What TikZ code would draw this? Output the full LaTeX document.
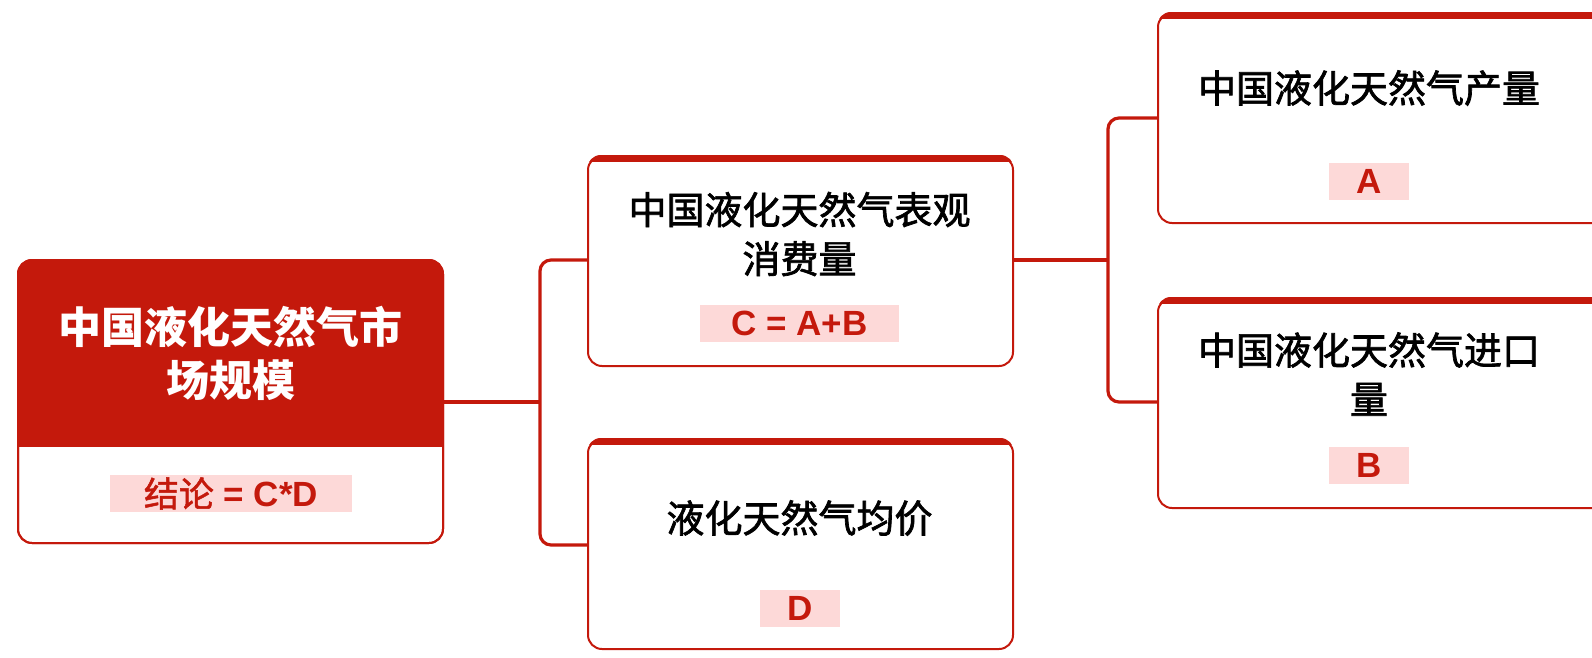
\documentclass[tikz,border=0pt]{standalone}
\usepackage{fontspec}
\setmainfont{Noto Sans CJK SC}
\newfontfamily\titlefont{Noto Sans CJK SC}[FakeBold=1.8]
\newfontfamily\cjkmed{Noto Sans CJK SC}[FakeBold=1.4]
\newfontfamily\latinb{Liberation Sans}
\definecolor{mred}{RGB}{196,25,12}
\definecolor{mpink}{RGB}{253,217,216}
\tikzset{
  boxframe/.style={draw=mred,line width=2pt,rounded corners=14pt,fill=white,inner sep=0pt},
  conn/.style={draw=mred,line width=3.2pt,rounded corners=11pt},
  titletext/.style={align=center,inner sep=0pt,font=\titlefont\fontsize{38}{49}\selectfont,text=black},
  roottext/.style={align=center,inner sep=0pt,font=\bfseries\fontsize{43}{53}\selectfont,text=white},
  hl/.style={fill=mpink,text=mred,inner sep=0pt,minimum height=37pt,font=\latinb\bfseries\fontsize{35}{37}\selectfont},
}
\newcommand{\childbox}[3]{%
  \node[boxframe,minimum width=#3pt,minimum height=210pt,anchor=north west] (#1) at (#2) {};
  \begin{scope}
    \clip[rounded corners=14pt] (#1.north west) rectangle (#1.south east);
    \fill[mred] (#1.north west) rectangle ([yshift=-7pt]#1.north east);
  \end{scope}
}
\begin{document}
\begin{tikzpicture}[x=1pt,y=-1pt]
\useasboundingbox (0,0) rectangle (1592,657);
\clip (0,0) rectangle (1592,657);
% ---- root box
\node[boxframe,minimum width=425pt,minimum height=283pt] (root) at (230.5,401.5) {};
\begin{scope}
  \clip[rounded corners=14pt] (18,260) rectangle (443,543);
  \fill[mred] (18,260) rectangle (443,447);
\end{scope}
\draw[mred,line width=2pt,rounded corners=14pt] (18,260) rectangle (443,543);
\node[roottext] (roott) at (230.5,353.5) {中国液化天然气市\\场规模};
\node[hl,minimum width=242pt] (rootl) at (231,493.5) {{\cjkmed\fontsize{35}{37}\selectfont\mdseries 结论} = C*D};
% ---- child boxes
\childbox{C}{587,155}{425}
\childbox{D}{587,438}{425}
\childbox{A}{1157,12}{460}
\childbox{B}{1157,297}{460}
% texts
\node[titletext] (Ct) at (799.5,234) {中国液化天然气表观\\消费量};
\node[hl,minimum width=199pt] (Cl) at (799.5,323.5) {C = A+B};
\node[titletext] (Dt) at (799.5,518) {液化天然气均价};
\node[hl,minimum width=80pt] (Dl) at (800,608) {D};
\node[titletext] (At) at (1369,88) {中国液化天然气产量};
\node[hl,minimum width=80pt] (Al) at (1369,181.5) {A};
\node[titletext] (Bt) at (1369,374) {中国液化天然气进口\\量};
\node[hl,minimum width=80pt] (Bl) at (1369,465.5) {B};
% ---- connectors
\coordinate (j1) at (540,402);
\coordinate (j2) at (1108,260);
\draw[conn] (root.east |- j1) -- (j1);
\draw[conn] (C.west |- 0,260) -| (j1) |- (D.west |- 0,545);
\draw[conn] (C.east |- j2) -- (j2);
\draw[conn] (A.west |- 0,118) -| (j2) |- (B.west |- 0,402);
\end{tikzpicture}
\end{document}
